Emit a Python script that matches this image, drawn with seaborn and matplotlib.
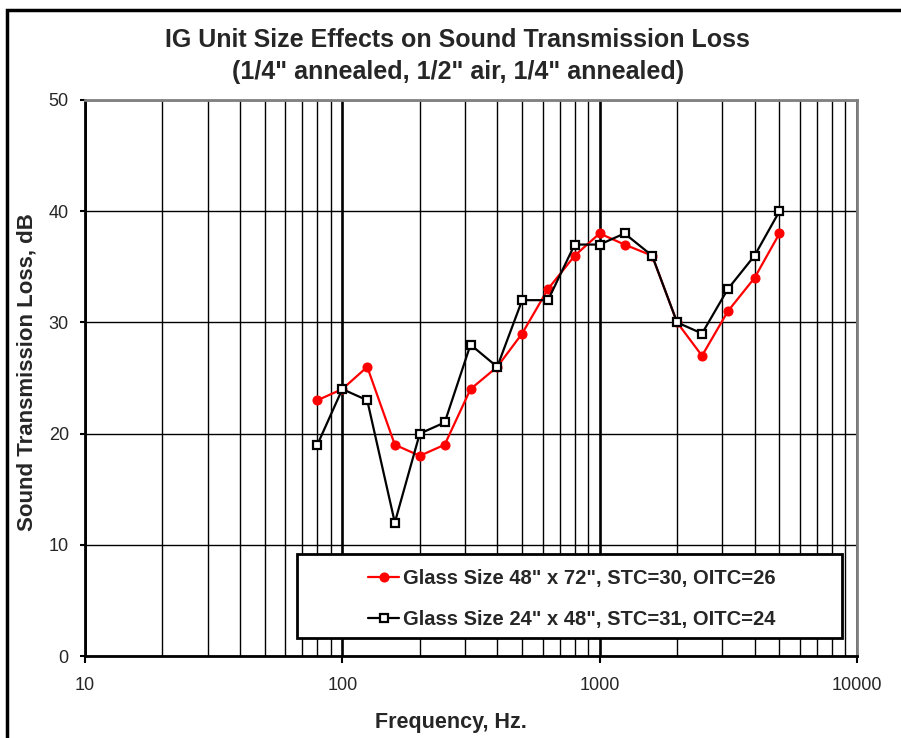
import pandas as pd
import matplotlib.pyplot as plt
import seaborn as sns
import numpy as np
from matplotlib.patches import Rectangle
from matplotlib.ticker import LogLocator, NullFormatter, FixedLocator

sns.set_theme(style='white')
plt.rcParams['font.family'] = ['Liberation Sans', 'DejaVu Sans']

# ── Data ─────────────────────────────────────────────
freq = [80, 100, 125, 160, 200, 250, 315, 400, 500, 630,
        800, 1000, 1250, 1600, 2000, 2500, 3150, 4000, 5000]
stl_48x72 = [23, 24, 26, 19, 18, 19, 24, 26, 29, 33,
             36, 38, 37, 36, 30, 27, 31, 34, 38]
stl_24x48 = [19, 24, 23, 12, 20, 21, 28, 26, 32, 32,
             37, 37, 38, 36, 30, 29, 33, 36, 40]
label_48x72 = 'Glass Size 48" x 72", STC=30, OITC=26'
label_24x48 = 'Glass Size 24" x 48", STC=31, OITC=24'

df = pd.DataFrame({'freq': freq, 'a': stl_48x72, 'b': stl_24x48})

fig = plt.figure(figsize=(9.01, 7.38), dpi=100)
ax = fig.add_axes([0.0943, 0.1111, 0.8568, 0.7534])

sns.lineplot(data=df, x='freq', y='a', ax=ax, color='red', lw=1.6,
             marker='o', markersize=6.5, markeredgecolor='red',
             label=label_48x72, zorder=3)
sns.lineplot(data=df, x='freq', y='b', ax=ax, color='black', lw=1.6,
             marker='s', markersize=5.5, markerfacecolor='white',
             markeredgecolor='black', markeredgewidth=1.6,
             label=label_24x48, zorder=4)

ax.set_xscale('log')
ax.set_xlim(10, 10000)
ax.set_ylim(0, 50)
ax.set_yticks(np.arange(0, 51, 10))
ax.xaxis.set_major_locator(FixedLocator([10, 100, 1000, 10000]))
ax.set_xticklabels(['10', '100', '1000', '10000'])
ax.xaxis.set_minor_locator(LogLocator(base=10, subs=np.arange(2, 10)))
ax.xaxis.set_minor_formatter(NullFormatter())

# grid
ax.grid(True, which='major', axis='y', color='black', lw=1.0)
ax.grid(True, which='both', axis='x', color='black', lw=1.9)
for t in ax.xaxis.get_minor_ticks():
    if t.get_loc() < 65:
        t.gridline.set_linewidth(1.0)
ax.set_axisbelow(True)

ax.tick_params(axis='x', which='major', direction='out', length=5, width=1.5,
               color='black', labelsize=13, pad=10, bottom=True)
ax.tick_params(axis='x', which='minor', length=0)
ax.tick_params(axis='y', which='major', direction='out', length=3.6, width=1.5,
               color='black', labelsize=13, pad=8, left=True)

for s in ['left', 'bottom']:
    ax.spines[s].set_color('black')
    ax.spines[s].set_linewidth(2)
for s in ['top', 'right']:
    ax.spines[s].set_color('#808080')
    ax.spines[s].set_linewidth(2)

ax.set_xlabel('Frequency, Hz.', fontsize=15.5, fontweight='bold', va='center')
ax.xaxis.set_label_coords(0.474, -0.1187)
ax.set_ylabel('Sound Transmission Loss, dB', fontsize=16, fontweight='bold', va='center')
ax.yaxis.set_label_coords(-0.0751, 0.51)

fig.text(0.508, 0.9458, 'IG Unit Size Effects on Sound Transmission Loss',
         ha='center', va='center', fontsize=18, fontweight='bold')
fig.text(0.508, 0.9024, '(1/4" annealed, 1/2" air, 1/4" annealed)',
         ha='center', va='center', fontsize=18, fontweight='bold')

# legend box
box = Rectangle((0.2746, 0.0324), 0.706, 0.1511, transform=ax.transAxes,
                facecolor='white', edgecolor='black', lw=2, zorder=5)
ax.add_patch(box)
leg = ax.legend(loc='center', bbox_to_anchor=(0.6308, 0.1025), frameon=False,
                prop={'weight': 'bold', 'size': 14.5}, handlelength=1.5,
                handletextpad=0.2, labelspacing=1.1)
leg.set_zorder(6)

# outer border
fig.add_artist(Rectangle((7 / 901, -0.1), 1.1, 1.1 - 10 / 738, transform=fig.transFigure,
                         fill=False, edgecolor='black', lw=2.5))

plt.savefig('out.png', dpi=100)
plt.close(fig)
